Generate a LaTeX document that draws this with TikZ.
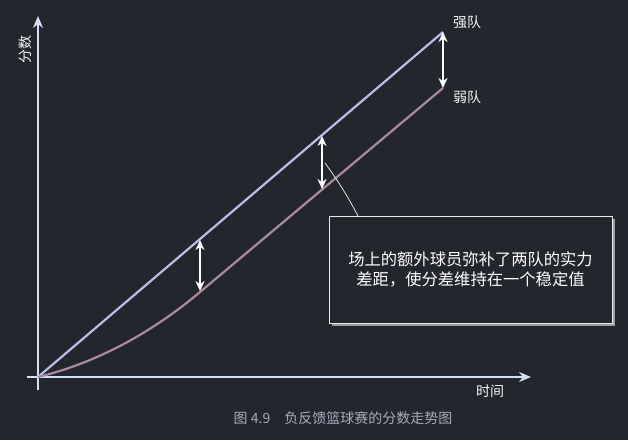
\documentclass[tikz,border=0pt]{standalone}
\usepackage{fontspec}
\setmainfont{Noto Sans CJK SC}
\usepackage{xcolor}
\usetikzlibrary{arrows.meta,positioning,shadows}

\definecolor{bg}{HTML}{24262E}
\definecolor{axiscol}{HTML}{D4DEF6}
\definecolor{strongcol}{HTML}{B4C0EA}
\definecolor{weakcol}{HTML}{A88C9C}
\definecolor{capcol}{HTML}{A4ACBC}

\tikzset{
	axis/.style={axiscol, line width=2.2pt, -{Stealth[length=12pt,width=10pt]}},
	gaparrow/.style={white, line width=1.8pt, {Stealth[length=10pt,width=9pt]}-{Stealth[length=10pt,width=9pt]}},
	lbl/.style={text=white!92!gray, font=\fontsize{14}{16}\selectfont},
	notebox/.style={draw=white!85!gray, fill=bg, line width=1pt, minimum width=283pt, minimum height=107pt,
		align=center, text=white, font=\fontsize{16.3}{20}\selectfont,
		drop shadow={shadow xshift=3pt, shadow yshift=-3pt, fill=gray!75, opacity=1}}
}

\begin{document}
\begin{tikzpicture}[x=1pt, y=-1pt]
	\fill[bg] (0,0) rectangle (628,440);
	\useasboundingbox (0,0) rectangle (628,440);
	% axes
	\coordinate (O) at (38,377);
	\coordinate (xfrom) at (27,377);
	\coordinate (xto) at (531,377);
	\coordinate (yfrom) at (38,390);
	\coordinate (yto) at (38,16);
	\draw[axis] (xfrom) -- (xto);
	\draw[axis] (yfrom) -- (yto);
	\node[lbl, rotate=90] (ylbl) at (25,49) {分数};
	\node[lbl] (xlbl) at (490,391) {时间};
	% teams
	\coordinate (strongend) at (443,32);
	\coordinate (weakmid) at (200,292);
	\coordinate (weakend) at (443,88);
	\draw[strongcol, line width=2.2pt] (O) -- (strongend);
	\draw[weakcol, line width=2.2pt] (O) .. controls (100,362) and (155,330) .. (weakmid) -- (weakend);
	\node[lbl] (strong) at (467,22) {强队};
	\node[lbl] (weak) at (467,97) {弱队};
	% gaps
	\coordinate (s1) at (200,240);
	\coordinate (w1) at (200,291);
	\coordinate (s2) at (322,136);
	\coordinate (w2) at (322,189);
	\draw[gaparrow] (s1) -- (w1);
	\draw[gaparrow] (s2) -- (w2);
	\draw[gaparrow] (strongend) -- (weakend);
	% note
	\node[notebox] (note) at (470.5,269.5) {场上的额外球员弥补了两队的实力\\差距，使分差维持在一个稳定值};
	\coordinate (ptr) at (325,163);
	\coordinate (tail) at (358,216);
	\draw[white!75!gray, line width=0.8pt] (ptr) to[bend left=4] (tail);
	% caption
	\node[text=capcol, font=\fontsize{14}{16}\selectfont] (cap) at (343,418) {图 4.9\quad 负反馈篮球赛的分数走势图};
\end{tikzpicture}
\end{document}
